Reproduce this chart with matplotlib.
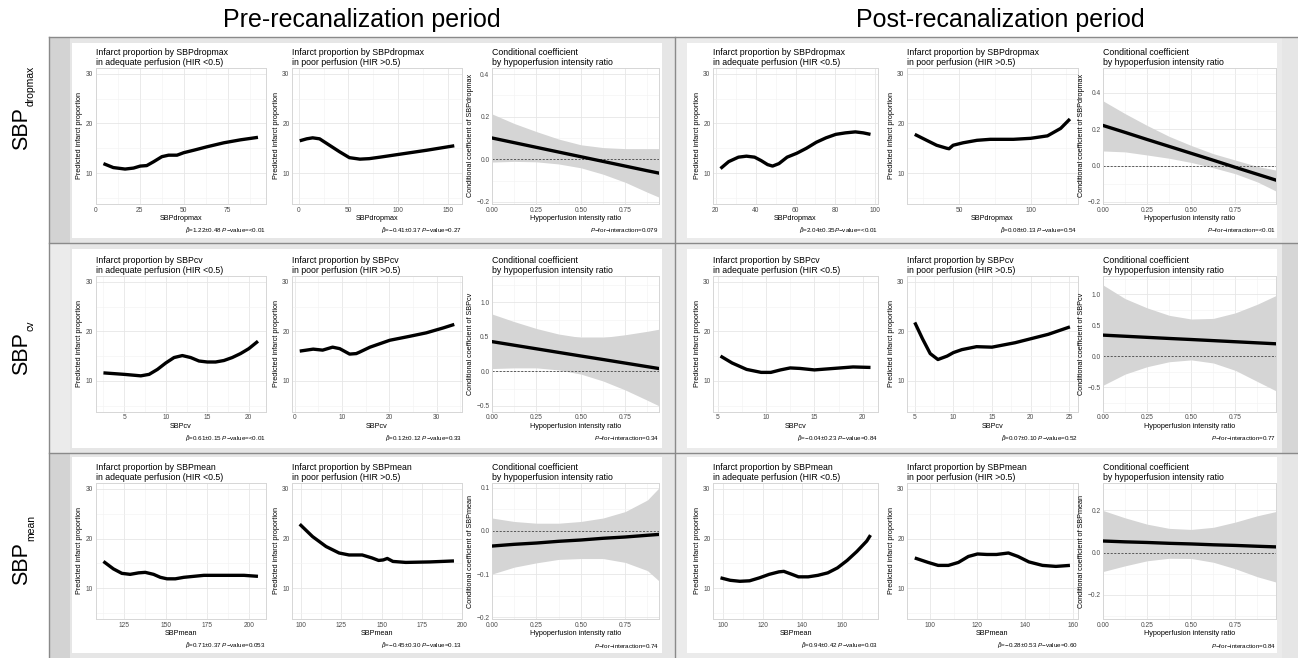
import matplotlib
matplotlib.use("Agg")
import matplotlib.pyplot as plt
from matplotlib.patches import Rectangle
from matplotlib.lines import Line2D

plt.rcParams['font.family'] = ['Liberation Sans', 'DejaVu Sans']
plt.rcParams['mathtext.fontset'] = 'custom'
plt.rcParams['mathtext.rm'] = 'Liberation Sans'
plt.rcParams['mathtext.it'] = 'Liberation Sans:italic'
plt.rcParams['mathtext.bf'] = 'Liberation Sans:bold'
plt.rcParams['axes.unicode_minus'] = True

# ---------------------------------------------------------------- data
period_titles = ["Pre-recanalization period", "Post-recanalization period"]
measure_subscripts = ["dropmax", "cv", "mean"]
measure_names = ["SBPdropmax", "SBPcv", "SBPmean"]
infarct_ylabel = "Predicted infarct proportion"
cond_xlabel = "Hypoperfusion intensity ratio"
infarct_yticks = [10, 20, 30]
infarct_ylim = (3.75, 31.25)
cond_xticks = [0.0, 0.25, 0.50, 0.75]
cond_xticklabels = ["0.00", "0.25", "0.50", "0.75"]

# --- infarct curves (x, predicted infarct proportion)
pre_dropmax_adq_x = [4.4, 10, 16.7, 21.5, 25.3, 29, 33, 37.6, 41.4, 46.2, 50, 55.7, 63.3, 72.8, 82.3, 92.2]
pre_dropmax_adq_y = [11.9, 11.1, 10.8, 11.0, 11.4, 11.5, 12.3, 13.3, 13.6, 13.6, 14.1, 14.6, 15.3, 16.1, 16.7, 17.2]
pre_dropmax_poor_x = [1, 8, 14, 21, 31, 41, 51, 61.6, 71, 81.8, 102, 129, 156.6]
pre_dropmax_poor_y = [16.5, 16.9, 17.1, 16.9, 15.6, 14.3, 13.1, 12.8, 12.9, 13.2, 13.8, 14.6, 15.5]
post_dropmax_adq_x = [22.4, 26.5, 31.4, 35.4, 39.5, 42.8, 46, 48.5, 51.7, 55.8, 60.7, 65.5, 70.4, 75.3, 80.2, 85, 90, 94, 97.6]
post_dropmax_adq_y = [10.9, 12.3, 13.2, 13.4, 13.2, 12.5, 11.7, 11.4, 11.9, 13.2, 14.0, 15.0, 16.2, 17.1, 17.8, 18.1, 18.3, 18.1, 17.8]
post_dropmax_poor_x = [19, 27.3, 34.3, 41.3, 43, 45.8, 52.8, 62.5, 71.8, 78.9, 88, 100, 111.8, 121, 127.5]
post_dropmax_poor_y = [17.8, 16.6, 15.6, 15.0, 14.9, 15.6, 16.1, 16.6, 16.8, 16.8, 16.8, 17.0, 17.5, 19.0, 20.9]

pre_cv_adq_x = [2.5, 5, 7, 8, 9, 10, 11, 12, 13, 14, 15, 16, 17, 18, 19, 20, 21.1]
pre_cv_adq_y = [11.6, 11.3, 11.0, 11.3, 12.3, 13.6, 14.7, 15.1, 14.7, 14.0, 13.8, 13.8, 14.1, 14.7, 15.5, 16.5, 18.0]
pre_cv_poor_x = [1.06, 3.9, 5.9, 8, 9.5, 11.6, 13, 13.7, 15.9, 18, 20.1, 24.3, 27.8, 31.4, 33.7]
pre_cv_poor_y = [16.0, 16.4, 16.2, 16.8, 16.5, 15.4, 15.5, 15.8, 16.8, 17.5, 18.2, 19.0, 19.7, 20.7, 21.4]
post_cv_adq_x = [5.3, 6.5, 8, 9.5, 10.5, 11.5, 12.5, 13.5, 15, 17, 19, 20.8]
post_cv_adq_y = [15.0, 13.6, 12.3, 11.7, 11.7, 12.2, 12.6, 12.5, 12.2, 12.5, 12.8, 12.7]
post_cv_poor_x = [5.0, 6, 7, 8, 9.2, 10, 11.1, 13, 15, 18, 22.3, 25.1]
post_cv_poor_y = [21.8, 18.5, 15.5, 14.3, 15.0, 15.7, 16.3, 16.9, 16.8, 17.7, 19.4, 20.9]

pre_mean_adq_x = [112.5, 118.5, 123.6, 128.6, 133.7, 137.7, 142.7, 146.8, 150.8, 155.8, 160.9, 166.9, 173, 185, 197.2, 205.6]
pre_mean_adq_y = [15.4, 13.9, 13.0, 12.8, 13.1, 13.2, 12.8, 12.2, 11.9, 11.9, 12.2, 12.4, 12.6, 12.6, 12.6, 12.4]
pre_mean_poor_x = [99, 107, 115.4, 123.5, 129.7, 137.9, 144, 148.1, 151, 153.5, 157, 165, 180, 195]
pre_mean_poor_y = [22.9, 20.4, 18.4, 17.1, 16.7, 16.7, 16.1, 15.6, 15.7, 16.0, 15.4, 15.2, 15.3, 15.5]
post_mean_adq_x = [98.7, 103.6, 108.5, 113.4, 118.4, 123.3, 128.2, 130.7, 134.8, 138.1, 143, 147.9, 152.9, 157.8, 162.7, 167.6, 172.6, 174.5]
post_mean_adq_y = [12.1, 11.6, 11.4, 11.5, 12.1, 12.8, 13.3, 13.4, 12.8, 12.3, 12.3, 12.6, 13.1, 14.1, 15.6, 17.4, 19.5, 20.7]
post_mean_poor_x = [93.7, 99.3, 103.5, 107.8, 112, 116.2, 120, 124, 128, 133, 137, 141.6, 147.3, 152.9, 158.8]
post_mean_poor_y = [16.1, 15.2, 14.6, 14.6, 15.2, 16.4, 16.9, 16.8, 16.8, 17.1, 16.4, 15.3, 14.6, 14.4, 14.6]

# x tick values of the infarct panels
pre_dropmax_adq_xticks = [0, 25, 50, 75]
pre_dropmax_poor_xticks = [0, 50, 100, 150]
post_dropmax_adq_xticks = [20, 40, 60, 80, 100]
post_dropmax_poor_xticks = [50, 100]
pre_cv_adq_xticks = [5, 10, 15, 20]
pre_cv_poor_xticks = [0, 10, 20, 30]
post_cv_adq_xticks = [5, 10, 15, 20]
post_cv_poor_xticks = [5, 10, 15, 20, 25]
pre_mean_adq_xticks = [125, 150, 175, 200]
pre_mean_poor_xticks = [100, 125, 150, 175, 200]
post_mean_adq_xticks = [100, 120, 140, 160]
post_mean_poor_xticks = [100, 120, 140, 160]

# --- conditional coefficient by HIR (estimate, lower, upper)
pre_hir = [0.0, 0.125, 0.25, 0.375, 0.5, 0.625, 0.75, 0.875, 0.94]
post_hir = [0.0, 0.125, 0.25, 0.375, 0.5, 0.625, 0.75, 0.875, 0.98]

pre_dropmax_coef = [0.100, 0.078, 0.056, 0.034, 0.012, -0.010, -0.032, -0.054, -0.065]
pre_dropmax_lo = [-0.013, -0.010, -0.012, -0.022, -0.040, -0.070, -0.108, -0.155, -0.178]
pre_dropmax_hi = [0.213, 0.168, 0.130, 0.095, 0.068, 0.055, 0.050, 0.050, 0.050]
post_dropmax_coef = [0.220, 0.182, 0.143, 0.105, 0.067, 0.029, -0.010, -0.048, -0.080]
post_dropmax_lo = [0.080, 0.075, 0.058, 0.040, 0.017, -0.012, -0.045, -0.090, -0.140]
post_dropmax_hi = [0.355, 0.285, 0.220, 0.160, 0.110, 0.065, 0.030, -0.005, -0.025]

pre_cv_coef = [0.43, 0.378, 0.326, 0.274, 0.222, 0.171, 0.119, 0.067, 0.04]
pre_cv_lo = [0.04, 0.05, 0.05, 0.02, -0.04, -0.14, -0.27, -0.42, -0.50]
pre_cv_hi = [0.83, 0.72, 0.62, 0.54, 0.49, 0.49, 0.53, 0.58, 0.61]
post_cv_coef = [0.34, 0.322, 0.304, 0.286, 0.269, 0.251, 0.233, 0.215, 0.20]
post_cv_lo = [-0.47, -0.29, -0.17, -0.09, -0.06, -0.11, -0.23, -0.41, -0.56]
post_cv_hi = [1.15, 0.93, 0.78, 0.66, 0.60, 0.61, 0.70, 0.84, 0.98]

pre_mean_coef = [-0.035, -0.031, -0.028, -0.024, -0.021, -0.017, -0.014, -0.010, -0.008]
pre_mean_lo = [-0.100, -0.084, -0.074, -0.066, -0.064, -0.064, -0.073, -0.092, -0.116]
pre_mean_hi = [0.030, 0.022, 0.018, 0.018, 0.022, 0.030, 0.045, 0.072, 0.100]
post_mean_coef = [0.055, 0.051, 0.048, 0.044, 0.041, 0.037, 0.034, 0.030, 0.027]
post_mean_lo = [-0.090, -0.063, -0.039, -0.027, -0.028, -0.046, -0.077, -0.115, -0.140]
post_mean_hi = [0.200, 0.165, 0.135, 0.115, 0.110, 0.120, 0.145, 0.175, 0.195]

pre_dropmax_cond_yticks = [-0.2, 0.0, 0.2, 0.4]
post_dropmax_cond_yticks = [-0.2, 0.0, 0.2, 0.4]
pre_cv_cond_yticks = [-0.5, 0.0, 0.5, 1.0]
post_cv_cond_yticks = [-0.5, 0.0, 0.5, 1.0]
pre_mean_cond_yticks = [-0.2, -0.1, 0.0, 0.1]
post_mean_cond_yticks = [-0.2, 0.0, 0.2]

pre_dropmax_cond_ylim = (-0.21, 0.43)
post_dropmax_cond_ylim = (-0.211, 0.537)
pre_cv_cond_ylim = (-0.585, 1.385)
post_cv_cond_ylim = (-0.897, 1.30)
pre_mean_cond_ylim = (-0.205, 0.112)
post_mean_cond_ylim = (-0.317, 0.332)

# --- annotation texts
pre_dropmax_notes = [r"$\hat{\beta}$=1.22±0.48 $P$−value=<0.01", r"$\hat{\beta}$=−0.41±0.37 $P$−value=0.27", r"$P$−for−interaction=0.079"]
post_dropmax_notes = [r"$\hat{\beta}$=2.04±0.35$P$−value=<0.01", r"$\hat{\beta}$=0.08±0.13 $P$−value=0.54", r"$P$−for−interaction=<0.01"]
pre_cv_notes = [r"$\hat{\beta}$=0.61±0.15 $P$−value=<0.01", r"$\hat{\beta}$=0.12±0.12 $P$−value=0.33", r"$P$−for−interaction=0.34"]
post_cv_notes = [r"$\hat{\beta}$=−0.04±0.23 $P$−value=0.84", r"$\hat{\beta}$=0.07±0.10 $P$−value=0.52", r"$P$−for−interaction=0.77"]
pre_mean_notes = [r"$\hat{\beta}$=0.71±0.37 $P$−value=0.053", r"$\hat{\beta}$=−0.45±0.30 $P$−value=0.13", r"$P$−for−interaction=0.74"]
post_mean_notes = [r"$\hat{\beta}$=0.94±0.42 $P$−value=0.03", r"$\hat{\beta}$=−0.28±0.53 $P$−value=0.60", r"$P$−for−interaction=0.84"]

# ---------------------------------------------------------------- tables built from data
cells = {
    (0, 0): dict(adq=(pre_dropmax_adq_x, pre_dropmax_adq_y, pre_dropmax_adq_xticks),
                 poor=(pre_dropmax_poor_x, pre_dropmax_poor_y, pre_dropmax_poor_xticks),
                 cond=(pre_hir, pre_dropmax_coef, pre_dropmax_lo, pre_dropmax_hi, pre_dropmax_cond_yticks, pre_dropmax_cond_ylim),
                 notes=pre_dropmax_notes),
    (0, 1): dict(adq=(post_dropmax_adq_x, post_dropmax_adq_y, post_dropmax_adq_xticks),
                 poor=(post_dropmax_poor_x, post_dropmax_poor_y, post_dropmax_poor_xticks),
                 cond=(post_hir, post_dropmax_coef, post_dropmax_lo, post_dropmax_hi, post_dropmax_cond_yticks, post_dropmax_cond_ylim),
                 notes=post_dropmax_notes),
    (1, 0): dict(adq=(pre_cv_adq_x, pre_cv_adq_y, pre_cv_adq_xticks),
                 poor=(pre_cv_poor_x, pre_cv_poor_y, pre_cv_poor_xticks),
                 cond=(pre_hir, pre_cv_coef, pre_cv_lo, pre_cv_hi, pre_cv_cond_yticks, pre_cv_cond_ylim),
                 notes=pre_cv_notes),
    (1, 1): dict(adq=(post_cv_adq_x, post_cv_adq_y, post_cv_adq_xticks),
                 poor=(post_cv_poor_x, post_cv_poor_y, post_cv_poor_xticks),
                 cond=(post_hir, post_cv_coef, post_cv_lo, post_cv_hi, post_cv_cond_yticks, post_cv_cond_ylim),
                 notes=post_cv_notes),
    (2, 0): dict(adq=(pre_mean_adq_x, pre_mean_adq_y, pre_mean_adq_xticks),
                 poor=(pre_mean_poor_x, pre_mean_poor_y, pre_mean_poor_xticks),
                 cond=(pre_hir, pre_mean_coef, pre_mean_lo, pre_mean_hi, pre_mean_cond_yticks, pre_mean_cond_ylim),
                 notes=pre_mean_notes),
    (2, 1): dict(adq=(post_mean_adq_x, post_mean_adq_y, post_mean_adq_xticks),
                 poor=(post_mean_poor_x, post_mean_poor_y, post_mean_poor_xticks),
                 cond=(post_hir, post_mean_coef, post_mean_lo, post_mean_hi, post_mean_cond_yticks, post_mean_cond_ylim),
                 notes=post_mean_notes),
}

# ---------------------------------------------------------------- layout (pixels)
W, H = 1298, 658
fig = plt.figure(figsize=(W / 100, H / 100), dpi=100)
fig.patch.set_facecolor("white")

col_x = [[(95.7, 265.7), (292, 462), (492, 659)],
         [(713, 878), (907, 1077.7), (1103, 1276)]]
row_y = [(67.7, 204), (275.7, 411.7), (482.7, 619.3)]
band_y = [(37, 243), (243, 453), (453, 658)]
white_y = [(43, 238), (249, 448), (457, 653)]
col_band = [(49, 675), (675, 1298)]
col_white = [(72, 662), (687, 1277)]


def frect(x0, y0, x1, y1, color, z=-10):
    fig.patches.append(Rectangle((x0 / W, 1 - y1 / H), (x1 - x0) / W, (y1 - y0) / H,
                                 transform=fig.transFigure, facecolor=color,
                                 edgecolor='none', zorder=z))


def fline(x0, y0, x1, y1):
    fig.lines.append(Line2D([x0 / W, x1 / W], [1 - y0 / H, 1 - y1 / H], transform=fig.transFigure,
                            color='#8a8a8a', lw=1.0, zorder=-5))


left_strip = ['#d3d3d3', '#ebebeb', '#d3d3d3']
right_strip = ['#e6e6e6', '#d6d6d6', '#e6e6e6']
for r in range(3):
    y0, y1 = band_y[r]
    frect(col_band[0][0], y0, col_band[0][1], y1, '#e6e6e6')
    frect(col_band[0][0], y0, 70, y1, left_strip[r], z=-9)
    frect(col_band[1][0], y0, col_band[1][1], y1, '#ebebeb')
    frect(1282, y0, 1298, y1, right_strip[r], z=-9)
    for c in range(2):
        frect(col_white[c][0], white_y[r][0], col_white[c][1], white_y[r][1], 'white', z=-8)

fline(49, 37, 1298, 37)
fline(49, 243, 1298, 243)
fline(49, 453, 1298, 453)
fline(49, 37, 49, 658)
fline(675, 37, 675, 658)

# column titles
fig.text(362 / W, 1 - 20 / H, period_titles[0], ha='center', va='center', fontsize=18)
fig.text(1000 / W, 1 - 20 / H, period_titles[1], ha='center', va='center', fontsize=18)

# row labels
renderer = fig.canvas.get_renderer()
sbp_bottom = [150, 375, 585]
for r in range(3):
    t = fig.text(22 / W, 1 - sbp_bottom[r] / H, "SBP", rotation=90, ha='center', va='bottom', fontsize=15.5)
    bb = t.get_window_extent(renderer)
    base_x = bb.x1 - 0.21 * 15.5 * 100 / 72
    fig.text((base_x - 2) / W, (bb.y1 + 1) / H, measure_subscripts[r], rotation=90,
             ha='left', va='bottom', fontsize=7.5)


def minor_of(ticks, lim):
    step = ticks[1] - ticks[0]
    cand = [ticks[0] - step / 2] + [t + step / 2 for t in ticks]
    return [c for c in cand if lim[0] <= c <= lim[1]]


def fmt_num(v, nd):
    s = f"{v:.{nd}f}"
    if s.startswith('-'):
        s = '\u2212' + s[1:]
    if s == '\u22120.0':
        s = '0.0'
    return s


def make_ax(xr, yr):
    x0, x1 = xr
    y0, y1 = yr
    return fig.add_axes([x0 / W, 1 - y1 / H, (x1 - x0) / W, (y1 - y0) / H])


def style(ax, xticks, xlabels, yticks, ylabels, xlim, ylim, title, xlabel, ylabel, note):
    ax.set_xlim(xlim)
    ax.set_ylim(ylim)
    ax.set_xticks(xticks)
    ax.set_xticklabels(xlabels)
    ax.set_yticks(yticks)
    ax.set_yticklabels(ylabels)
    ax.set_xticks(minor_of(xticks, xlim), minor=True)
    ax.set_yticks(minor_of(yticks, ylim), minor=True)
    ax.grid(which='major', color='#e6e6e6', lw=0.6)
    ax.grid(which='minor', color='#f2f2f2', lw=0.4)
    ax.set_axisbelow(True)
    for s in ax.spines.values():
        s.set_color('#d6d6d6')
        s.set_linewidth(0.7)
    ax.tick_params(which='both', length=0, labelsize=4.8, labelcolor='#4d4d4d', pad=1.8)
    ax.set_title(title, loc='left', fontsize=6.3, pad=2, linespacing=1.1)
    ax.set_xlabel(xlabel, fontsize=5.2, labelpad=1.0)
    ax.set_ylabel(ylabel, fontsize=5.2, labelpad=1.8)
    ax.annotate(note, xy=(1, 0), xycoords='axes fraction', xytext=(0, -26.5 * 0.72),
                textcoords='offset points', ha='right', va='center', fontsize=4.5)


for (r, c), d in cells.items():
    name = measure_names[r]
    yr = row_y[r]
    # adequate & poor perfusion panels
    for k, key in enumerate(['adq', 'poor']):
        xs, ys, xt = d[key]
        span = max(xs) - min(xs)
        xlim = (min(xs) - 0.05 * span, max(xs) + 0.05 * span)
        ax = make_ax(col_x[c][k], yr)
        ax.plot(xs, ys, color='black', lw=2.4, solid_joinstyle='round', solid_capstyle='butt')
        title = (f"Infarct proportion by {name}\nin adequate perfusion (HIR <0.5)" if key == 'adq'
                 else f"Infarct proportion by {name}\nin poor perfusion (HIR >0.5)")
        style(ax, xt, [str(v) for v in xt], infarct_yticks, [str(v) for v in infarct_yticks],
              xlim, infarct_ylim, title, name, infarct_ylabel, d['notes'][k])
    # conditional coefficient panel
    hx, coef, lo, hi, yt, ylim = d['cond']
    ax = make_ax(col_x[c][2], yr)
    ax.fill_between(hx, lo, hi, color='#d5d5d5', lw=0, zorder=1)
    ax.axhline(0, color='#444444', lw=0.6, dashes=(2.5, 1.8), zorder=2)
    ax.plot(hx, coef, color='black', lw=2.4, zorder=3)
    style(ax, cond_xticks, cond_xticklabels, yt, [fmt_num(v, 1) for v in yt],
          (0, max(hx)), ylim, "Conditional coefficient\nby hypoperfusion intensity ratio",
          cond_xlabel, f"Conditional coefficient of {name}", d['notes'][2])

fig.savefig("out.png", dpi=100, facecolor='white')
